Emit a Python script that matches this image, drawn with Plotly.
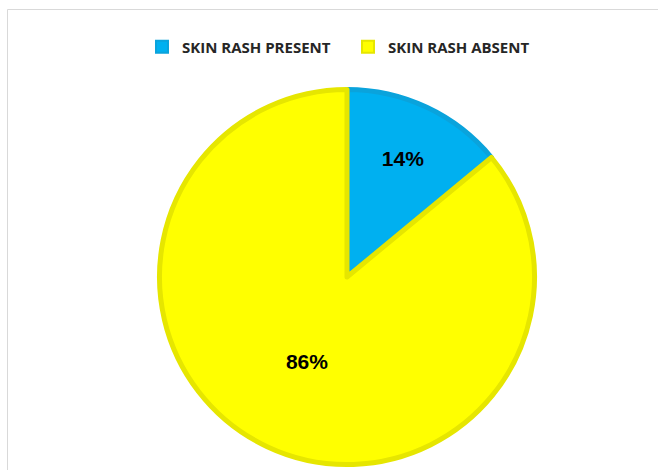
import plotly.graph_objects as go

labels = ["SKIN RASH PRESENT", "SKIN RASH ABSENT"]
values = [14, 86]
fill_colors = ["#00B0F0", "#FFFF00"]
line_colors = ["#0AA3DC", "#E6E600"]

W, H = 658, 470
cx, cy, r = 347, 277, 187.5

fig = go.Figure(go.Pie(
    labels=labels,
    values=values,
    sort=False,
    direction="clockwise",
    rotation=0,
    marker=dict(colors=fill_colors, line=dict(color=line_colors, width=5)),
    textinfo="percent",
    texttemplate="%{percent:.0%}",
    textposition="inside",
    insidetextorientation="horizontal",
    textfont=dict(family="Liberation Sans", size=21, color="#000000", weight="bold"),
    domain=dict(x=[(cx - r) / W, (cx + r) / W], y=[(H - cy - r) / H, (H - cy + r) / H]),
    hoverinfo="label+percent",
))

fig.add_shape(type="rect", xref="paper", yref="paper",
              x0=7.5 / W, x1=1.02, y0=-0.02, y1=1 - 9.5 / H,
              line=dict(color="#D9D9D9", width=1), fillcolor="rgba(0,0,0,0)", layer="below")

fig.update_layout(
    width=W, height=H,
    margin=dict(l=0, r=0, t=0, b=0),
    paper_bgcolor="#FFFFFF",
    plot_bgcolor="#FFFFFF",
    showlegend=True,
    legend=dict(orientation="h", x=142 / W, xanchor="left", y=1 - 47 / H, yanchor="middle",
                font=dict(family="Open Sans", size=15, color="#262626", weight="bold"),
                itemsizing="constant", traceorder="normal", bgcolor="rgba(0,0,0,0)",
                itemwidth=30, entrywidth=161, entrywidthmode="pixels"),
)

fig.write_html("out.html")
